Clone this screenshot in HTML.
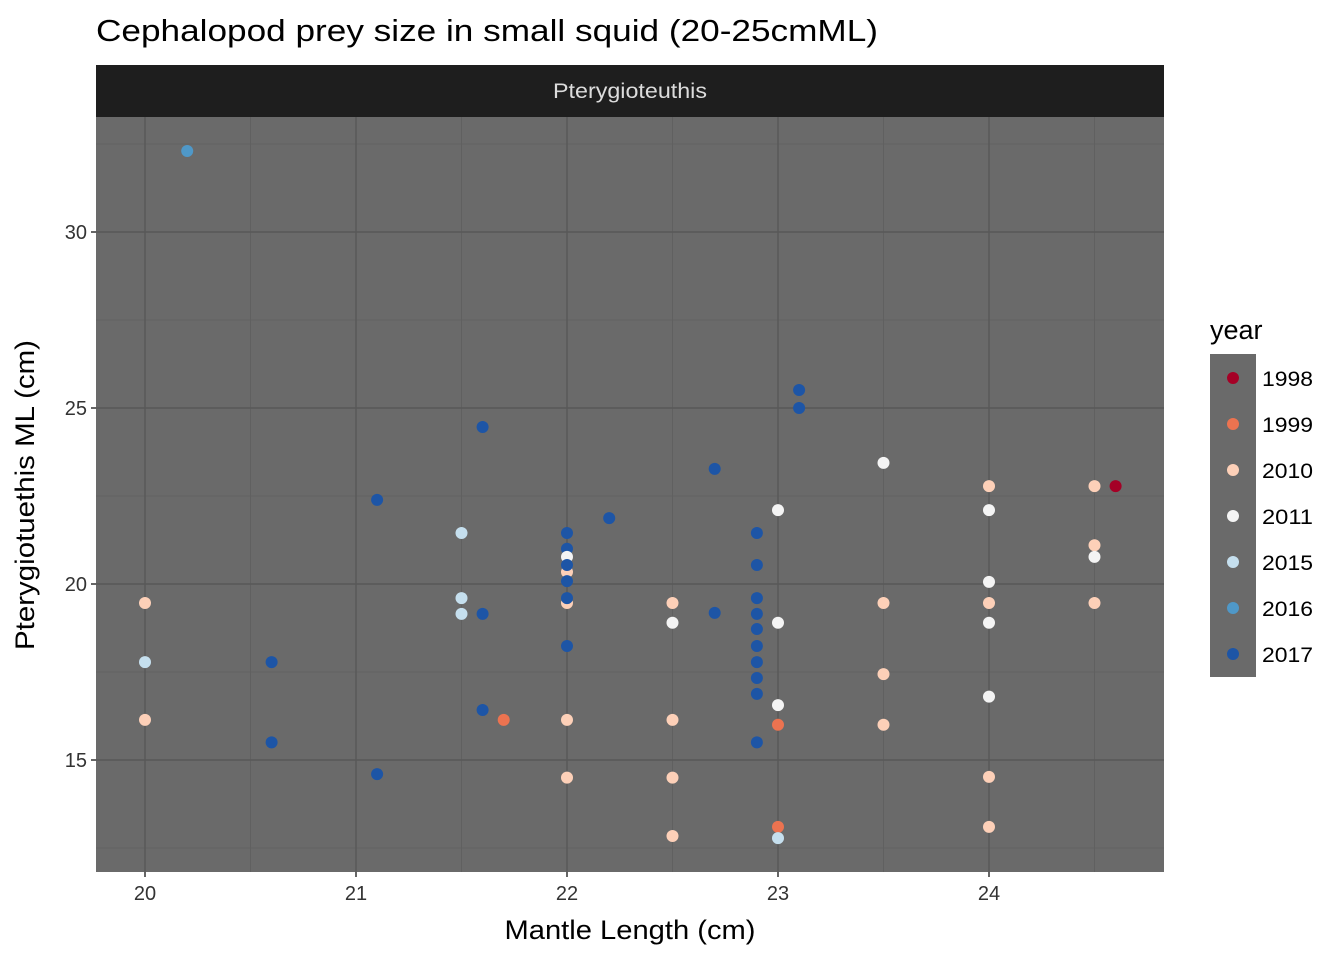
<!DOCTYPE html>
<html><head><meta charset="utf-8"><style>
body{margin:0;background:#fff;font-family:"Liberation Sans",Arial,sans-serif}
svg text{font-family:"Liberation Sans",Arial,sans-serif}
</style></head><body>
<svg id="chart" width="1344" height="960" xmlns="http://www.w3.org/2000/svg">
<rect width="1344" height="960" fill="#fff"/>
<text x="96" y="41" font-size="31" textLength="782" lengthAdjust="spacingAndGlyphs" fill="#000">Cephalopod prey size in small squid (20-25cmML)</text>
<rect x="96" y="65" width="1068" height="52" fill="#1e1e1e"/>
<text x="630" y="98" font-size="21" textLength="154" lengthAdjust="spacingAndGlyphs" fill="#dcdcdc" text-anchor="middle">Pterygioteuthis</text>
<rect x="96" y="117" width="1068" height="755" fill="#6a6a6a"/>
<g id="grid"></g>
<g id="points"></g>
<g id="axes"></g>
<text x="630" y="939" font-size="27" textLength="251" lengthAdjust="spacingAndGlyphs" text-anchor="middle" fill="#000">Mantle Length (cm)</text>
<text transform="translate(34,495) rotate(-90)" font-size="27" textLength="310" lengthAdjust="spacingAndGlyphs" text-anchor="middle" fill="#000">Pterygiotuethis ML (cm)</text>
<text x="1210" y="339" font-size="27" fill="#000">year</text>
<rect x="1210" y="354" width="46" height="323" fill="#6a6a6a"/>
<g id="legend"></g>
</svg>
<script>
const years = ["1998","1999","2010","2011","2015","2016","2017"];
const yearColors = ["#a50026","#ec7350","#fdd0b8","#f4f4f4","#c5dfee","#4f98c8","#1d55a6"];
const xVals = [20.2,20,20,20,20.6,20.6,21.1,21.1,21.5,21.5,21.5,21.6,21.6,21.6,21.7,
 22,22,22,22,22,22,22,22,22,22,22,22.2,
 22.5,22.5,22.5,22.5,22.5,22.7,22.7,
 22.9,22.9,22.9,22.9,22.9,22.9,22.9,22.9,22.9,22.9,
 23,23,23,23,23,23,23.1,23.1,
 23.5,23.5,23.5,23.5,
 24,24,24,24,24,24,24,24,
 24.5,24.5,24.5,24.5,24.6];
const yVals = [32.3,19.46,17.78,16.14,17.78,15.5,22.39,14.6,21.45,19.6,19.15,24.46,19.15,16.42,16.14,
 21.45,21.0,20.77,20.34,20.54,20.08,19.46,19.6,18.24,16.14,14.5,21.87,
 19.46,18.9,16.14,14.5,12.84,23.27,19.18,
 21.45,20.54,19.6,19.15,18.72,18.24,17.78,17.33,16.88,15.5,
 22.1,18.9,16.56,16.0,13.1,12.78,25.51,25.0,
 23.44,19.46,17.44,16.0,
 22.78,22.1,20.06,19.46,18.9,16.8,14.52,13.1,
 22.78,21.1,20.77,19.46,22.78];
const yearIdx = [5,2,4,2,6,6,6,6,4,4,4,6,6,6,1,
 6,6,3,2,6,6,2,6,6,2,2,6,
 2,3,2,2,2,6,6,
 6,6,6,6,6,6,6,6,6,6,
 3,3,3,1,1,4,6,6,
 3,2,2,2,
 2,3,3,2,3,3,2,2,
 2,2,3,2,0];
const xTicks = [20,21,22,23,24];
const yTicks = [15,20,25,30];
const xMinor = [20.5,21.5,22.5,23.5,24.5];
const yMinor = [12.5,17.5,22.5,27.5,32.5];

const NS="http://www.w3.org/2000/svg";
const X = v => 145 + (v-20)*211;
const Y = v => 584 - (v-20)*35.2;
function mk(tag, attrs, parent){const e=document.createElementNS(NS,tag);for(const k in attrs)e.setAttribute(k,attrs[k]);parent.appendChild(e);return e;}
const grid=document.getElementById('grid'), pts=document.getElementById('points'), axes=document.getElementById('axes'), leg=document.getElementById('legend');
yMinor.forEach(v=>{const e=mk('line',{x1:96,x2:1164,y1:Y(v),y2:Y(v),stroke:'#5f5f5f','stroke-width':0.8},grid);

});
xMinor.forEach(v=>{const e=mk('line',{x1:X(v),x2:X(v),y1:117,y2:872,stroke:'#5f5f5f','stroke-width':0.8},grid);

});
yTicks.forEach(v=>{const e=mk('line',{x1:96,x2:1164,y1:Y(v),y2:Y(v),stroke:'#585858','stroke-width':1.4},grid);


const t=mk('text',{x:87,y:Y(v)+7,'font-size':20,'text-anchor':'end',fill:'#333'},axes);t.textContent=v;


const tk=mk('line',{x1:91,x2:96,y1:Y(v),y2:Y(v),stroke:'#333','stroke-width':1.5},axes);

});
xTicks.forEach(v=>{const e=mk('line',{x1:X(v),x2:X(v),y1:117,y2:872,stroke:'#585858','stroke-width':1.4},grid);


const t=mk('text',{x:X(v),y:900,'font-size':20,'text-anchor':'middle',fill:'#333'},axes);t.textContent=v;


const tk=mk('line',{x1:X(v),x2:X(v),y1:872,y2:877,stroke:'#333','stroke-width':1.5},axes);

});
xVals.forEach((xv,i)=>{const c=mk('circle',{cx:X(xv),cy:Y(yVals[i]),r:6,fill:yearColors[yearIdx[i]]},pts);

});
years.forEach((y,i)=>{const cy=378+i*46;
const c=mk('circle',{cx:1233,cy:cy,r:6,fill:yearColors[i]},leg);


const t=mk('text',{x:1262,y:cy+8,'font-size':21,textLength:51,lengthAdjust:'spacingAndGlyphs',fill:'#000'},leg);t.textContent=y;

});
</script>
</body></html>
